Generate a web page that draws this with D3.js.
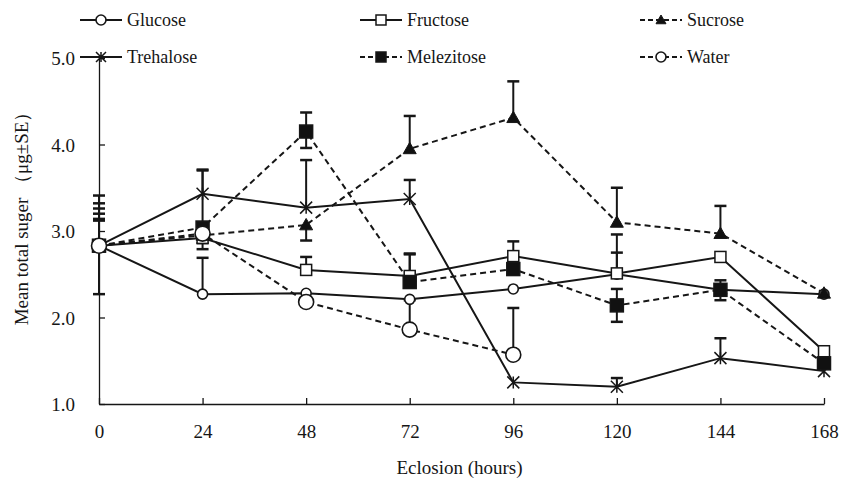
<!DOCTYPE html>
<html>
<head>
<meta charset="utf-8">
<script src="https://cdn.jsdelivr.net/npm/d3@7"></script>
<style>
	body { margin: 0; background: #fff; }
	svg { display: block; font-family: "Liberation Serif", "Times New Roman", serif; }
</style>
</head>
<body>
<div id="chart"></div>
<script>
/***********************************************************************/
//Data
/***********************************************************************/
const hours = [0, 24, 48, 72, 96, 120, 144, 168]
const yTickValues = [1.0, 2.0, 3.0, 4.0, 5.0]

const glucose    = [2.83, 2.27, 2.28, 2.21, 2.33, 2.50, 2.32, 2.27]
const fructose   = [2.83, 2.92, 2.55, 2.48, 2.71, 2.51, 2.70, 1.61]
const sucrose    = [2.83, 2.95, 3.07, 3.95, 4.31, 3.10, 2.97, 2.28]
const trehalose  = [2.83, 3.43, 3.27, 3.37, 1.25, 1.20, 1.53, 1.38]
const melezitose = [2.83, 3.04, 4.15, 2.41, 2.56, 2.14, 2.32, 1.47]
const water      = [2.83, 2.97, 2.18, 1.86, 1.57, null, null, null]

// SE bars drawn above (up) or below (down) the mean
const glucoseUp      = [0.29, 0.42, null, null, null, 0.25, null, null]
const glucoseDown    = [0.56, null, null, null, null, null, null, null]
const fructoseUp     = [0.37, null, 0.15, 0.25, 0.17, 0.45, null, null]
const fructoseDown   = [null, 0.13, null, null, null, null, null, null]
const sucroseUp      = [0.43, null, null, 0.38, 0.42, 0.40, 0.32, null]
const sucroseDown    = [null, 0.09, 0.18, null, null, null, null, null]
const trehaloseUp    = [0.58, 0.28, 0.55, 0.22, null, 0.10, 0.23, null]
const trehaloseDown  = [null, null, null, null, null, null, null, null]
const melezitoseUp   = [0.49, 0.66, 0.22, 0.33, null, 0.19, 0.11, null]
const melezitoseDown = [null, null, 0.19, null, null, 0.19, 0.12, null]
const waterUp        = [0.31, null, null, 0.34, 0.54, null, null, null]
const waterDown      = [null, null, null, null, null, null, null, null]

const seriesNames = ['Glucose', 'Fructose', 'Sucrose', 'Trehalose', 'Melezitose', 'Water']

const series = [
	{ name : 'Glucose', values : glucose, up : glucoseUp, down : glucoseDown, marker : 'circle', fill : '#fff', dashed : false, size : 5 },
	{ name : 'Fructose', values : fructose, up : fructoseUp, down : fructoseDown, marker : 'square', fill : '#fff', dashed : false, size : 5.5 },
	{ name : 'Sucrose', values : sucrose, up : sucroseUp, down : sucroseDown, marker : 'triangle', fill : '#111', dashed : true, size : 6.5 },
	{ name : 'Trehalose', values : trehalose, up : trehaloseUp, down : trehaloseDown, marker : 'cross', fill : 'none', dashed : false, size : 6 },
	{ name : 'Melezitose', values : melezitose, up : melezitoseUp, down : melezitoseDown, marker : 'square', fill : '#111', dashed : true, size : 6.5 },
	{ name : 'Water', values : water, up : waterUp, down : waterDown, marker : 'circle', fill : '#fff', dashed : true, size : 7.5 }
]

/***********************************************************************/
//Plot Area
/***********************************************************************/
const width = 841
const height = 478
const margin = { left : 99, right : 17, top : 58, bottom : 74 }
const plotAreaWidth = width - margin.left - margin.right
const plotAreaHeight = height - margin.top - margin.bottom
const ink = '#161616'

const svg = d3.select('#chart')
	.append('svg')
	.attr('width', width)
	.attr('height', height)

const g = svg.append('g')
	.attr('transform', 'translate(' + margin.left + ',' + margin.top + ')')

/***********************************************************************/
//Scale
/***********************************************************************/
const xScale = d3.scaleLinear()
	.domain([0, 168])
	.range([0, plotAreaWidth])

const yScale = d3.scaleLinear()
	.domain([1, 5])
	.range([plotAreaHeight, 0])

/***********************************************************************/
//Axes
/***********************************************************************/
const xAxis = d3.axisBottom(xScale)
	.tickValues(hours)
	.tickFormat(d3.format('d'))
	.tickSizeInner(-6)
	.tickSizeOuter(0)
	.tickPadding(21)

const yAxis = d3.axisLeft(yScale)
	.tickValues(yTickValues)
	.tickFormat(d3.format('.1f'))
	.tickSizeInner(-6)
	.tickSizeOuter(0)
	.tickPadding(24)

const xAxisG = g.append('g')
	.attr('transform', 'translate(0,' + plotAreaHeight + ')')
	.call(xAxis)

const yAxisG = g.append('g')
	.call(yAxis)

svg.selectAll('.domain, .tick line')
	.attr('stroke', ink)
	.attr('stroke-width', 1.3)

svg.selectAll('.tick text')
	.attr('fill', ink)
	.style('font-size', '19px')
	.style('font-family', '"Liberation Serif", "Times New Roman", serif')

yAxisG.selectAll('.tick text').attr('dy', '0.35em')

svg.append('text')
	.attr('x', margin.left + plotAreaWidth / 2 - 2)
	.attr('y', 474)
	.attr('text-anchor', 'middle')
	.attr('fill', ink)
	.style('font-size', '19px')
	.text('Eclosion (hours)')

svg.append('text')
	.attr('transform', 'translate(28,' + 214 + ') rotate(-90)')
	.attr('text-anchor', 'middle')
	.attr('fill', ink)
	.style('font-size', '19px')
	.text('Mean total suger （μg±SE）')

/***********************************************************************/
//Markers
/***********************************************************************/
function drawMarker(sel, s, x, y) {
	const r = s.size
	if (s.marker === 'circle') {
		sel.append('circle')
			.attr('cx', x).attr('cy', y).attr('r', r)
			.attr('fill', s.fill).attr('stroke', ink).attr('stroke-width', 1.6)
	} else if (s.marker === 'square') {
		sel.append('rect')
			.attr('x', x - r).attr('y', y - r)
			.attr('width', r * 2).attr('height', r * 2)
			.attr('fill', s.fill).attr('stroke', ink).attr('stroke-width', 1.5)
	} else if (s.marker === 'triangle') {
		sel.append('path')
			.attr('d', `M${x},${y - r}L${x + r},${y + r * 0.75}L${x - r},${y + r * 0.75}Z`)
			.attr('fill', s.fill).attr('stroke', ink).attr('stroke-width', 1)
	} else if (s.marker === 'cross') {
		sel.append('path')
			.attr('d', `M${x - r},${y - r}L${x + r},${y + r}M${x + r},${y - r}L${x - r},${y + r}M${x},${y - r}L${x},${y + r}`)
			.attr('fill', 'none').attr('stroke', ink).attr('stroke-width', 1.5)
	}
}

/***********************************************************************/
//Plotting
/***********************************************************************/
const line = d3.line()
	.defined(d => d.v !== null)
	.x(d => xScale(d.h))
	.y(d => yScale(d.v))

const gLines = g.append('g')
const gErr = g.append('g')
const gMarks = g.append('g')

series.forEach(s => {
	const pts = hours.map((h, i) => ({ h, v : s.values[i], up : s.up[i], down : s.down[i] }))

	gLines.append('path')
		.datum(pts)
		.attr('fill', 'none')
		.attr('stroke', ink)
		.attr('stroke-width', 2)
		.attr('stroke-dasharray', s.dashed ? '6,4' : null)
		.attr('d', line)

	pts.filter(p => p.v !== null).forEach(p => {
		const x = xScale(p.h)
		const ends = []
		if (p.up !== null) ends.push(p.v + p.up)
		if (p.down !== null) ends.push(p.v - p.down)
		ends.forEach(e => {
			gErr.append('line')
				.attr('x1', x).attr('x2', x)
				.attr('y1', yScale(p.v)).attr('y2', yScale(e))
				.attr('stroke', ink).attr('stroke-width', 2)
			gErr.append('line')
				.attr('x1', x - 6).attr('x2', x + 6)
				.attr('y1', yScale(e)).attr('y2', yScale(e))
				.attr('stroke', ink).attr('stroke-width', 2.5)
		})
	})
})

series.forEach(s => {
	hours.forEach((h, i) => {
		if (s.values[i] === null) return
		drawMarker(gMarks, s, xScale(h), yScale(s.values[i]))
	})
})

/***********************************************************************/
//Legend
/***********************************************************************/
const legendX = [80, 360, 640]
const legendY = [20, 57]

series.forEach((s, i) => {
	const lx = legendX[i % 3]
	const ly = legendY[Math.floor(i / 3)]
	const lg = svg.append('g')

	lg.append('line')
		.attr('x1', lx).attr('x2', lx + 42)
		.attr('y1', ly).attr('y2', ly)
		.attr('stroke', ink)
		.attr('stroke-width', 2)
		.attr('stroke-dasharray', s.dashed ? '5,3' : null)

	drawMarker(lg, Object.assign({}, s, { size : Math.min(s.size, 5) }), lx + 21, ly)

	lg.append('text')
		.attr('x', lx + 47)
		.attr('y', ly)
		.attr('dy', '0.35em')
		.attr('fill', ink)
		.style('font-size', '18px')
		.text(seriesNames[i])
})
</script>
</body>
</html>
